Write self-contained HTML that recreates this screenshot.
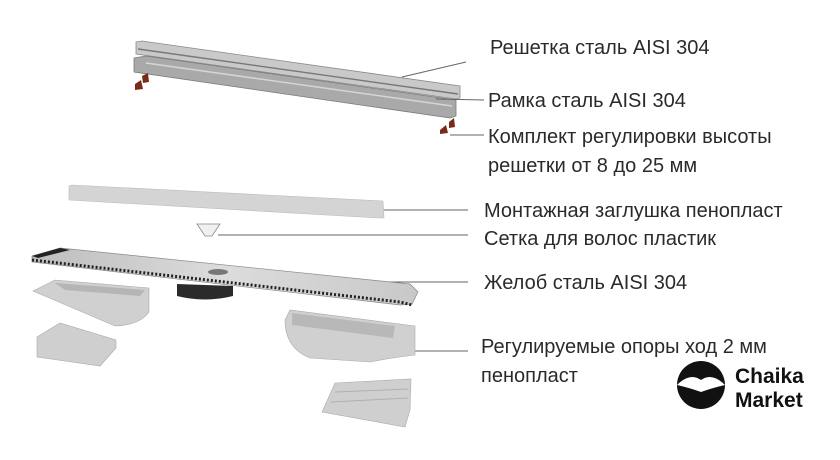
<!DOCTYPE html>
<html><head><meta charset="utf-8"><style>
html,body{margin:0;padding:0;background:#fff;}
body{width:840px;height:460px;position:relative;overflow:hidden;font-family:"Liberation Sans","DejaVu Sans",sans-serif;}
.t{position:absolute;font-size:20px;color:#2a2a2a;white-space:nowrap;line-height:22px;}
</style></head><body>
<svg width="840" height="460" style="position:absolute;left:0;top:0">
<defs>
<linearGradient id="g2" x1="0" y1="0" x2="1" y2="0"><stop offset="0" stop-color="#bdbdbd"/><stop offset="0.5" stop-color="#dcdcdc"/><stop offset="1" stop-color="#c8c8c8"/></linearGradient>
</defs>
<!-- grate -->
<polygon points="136,42 142,41 460,86 460,98 456,99 136,54" fill="#c9c9c9" stroke="#8a8a8a" stroke-width="0.8"/>
<line x1="138" y1="49" x2="458" y2="94" stroke="#777" stroke-width="1.4"/>
<!-- frame -->
<polygon points="134,58 146,56 456,100 456,116 450,118 134,72" fill="#a9a9a9" stroke="#7a7a7a" stroke-width="0.8"/>
<line x1="146" y1="63" x2="452" y2="106" stroke="#d5d5d5" stroke-width="1.5"/>
<!-- feet -->
<polygon points="135,84 141,80 143,89 135,90" fill="#7a2a1a"/>
<polygon points="142,76 148,73 149,82 143,83" fill="#7a2a1a"/>
<polygon points="440,130 446,125 448,133 440,134" fill="#7a2a1a"/>
<polygon points="449,122 454,118 455,127 449,128" fill="#7a2a1a"/>
<!-- connectors -->
<g stroke="#666" stroke-width="1" fill="none">
<line x1="402" y1="77" x2="466" y2="62"/>
<line x1="436" y1="99" x2="484" y2="100"/>
<line x1="450" y1="135" x2="484" y2="135"/>
<line x1="345" y1="210" x2="468" y2="210"/>
<line x1="218" y1="235" x2="468" y2="235"/>
<line x1="375" y1="282" x2="468" y2="282"/>
<line x1="402" y1="351" x2="468" y2="351"/>
</g>
<!-- foam plug -->
<polygon points="69,186 72,185 383,201 384,218 378,218 69,200" fill="#d4d4d4" stroke="#bbb" stroke-width="0.6"/>
<!-- hair net -->
<path d="M197,224 L220,224 L212,236 L205,236 Z" fill="#f0f0f0" stroke="#888" stroke-width="0.8"/>
<!-- channel -->
<polygon points="32,256 60,248 410,284 418,292 412,304 400,305 32,262" fill="url(#g2)" stroke="#888" stroke-width="0.7"/>
<polygon points="32,256 60,248 70,250 38,258" fill="#222"/>
<path d="M32,260 L400,302 L412,305" stroke="#222" stroke-width="3" fill="none" stroke-dasharray="2 2"/>
<ellipse cx="218" cy="272" rx="10" ry="3" fill="#777"/>
<!-- outlet -->
<path d="M177,284 L233,286 L233,296 Q205,303 177,296 Z" fill="#2b2b2b"/>
<!-- left support -->
<path d="M33,291 L55,280 L149,288 L149,312 Q140,325 115,326 Z" fill="#d0d0d0" stroke="#aaa" stroke-width="0.6"/>
<polygon points="55,283 145,290 140,296 65,290" fill="#b5b5b5"/>
<!-- left wedge -->
<polygon points="37,337 60,323 116,340 116,348 100,366 37,357" fill="#cfcfcf" stroke="#aaa" stroke-width="0.6"/>
<!-- right support -->
<path d="M285,320 L290,310 L415,326 L415,355 Q390,358 370,362 L310,358 Q285,348 285,320 Z" fill="#d0d0d0" stroke="#aaa" stroke-width="0.6"/>
<polygon points="292,313 395,326 393,338 292,325" fill="#b8b8b8"/>
<!-- right wedge -->
<polygon points="322,412 335,383 411,379 410,410 405,427" fill="#cfcfcf" stroke="#aaa" stroke-width="0.6"/>
<g stroke="#b0b0b0" stroke-width="1">
<line x1="335" y1="392" x2="408" y2="389"/><line x1="330" y1="402" x2="408" y2="398"/>
</g>
<!-- logo -->
<circle cx="701" cy="385" r="24" fill="#111"/>
<path d="M677,385 Q690,372 701,380 Q712,372 725,385 Q712,388 701,392 Q690,388 677,385 Z" fill="#fff"/>
</svg>
<div class="t" style="left:490px;top:37px">Решетка сталь AISI 304</div>
<div class="t" style="left:488px;top:90px">Рамка сталь AISI 304</div>
<div class="t" style="left:488px;top:126px">Комплект регулировки высоты</div>
<div class="t" style="left:488px;top:155px">решетки от 8 до 25 мм</div>
<div class="t" style="left:484px;top:200px">Монтажная заглушка пенопласт</div>
<div class="t" style="left:484px;top:228px">Сетка для волос пластик</div>
<div class="t" style="left:484px;top:272px">Желоб сталь AISI 304</div>
<div class="t" style="left:481px;top:336px">Регулируемые опоры ход 2 мм</div>
<div class="t" style="left:481px;top:365px">пенопласт</div>
<div class="t" style="left:735px;top:366px;font-size:21px;font-weight:bold;color:#111">Chaika</div>
<div class="t" style="left:735px;top:390px;font-size:21px;font-weight:bold;color:#111">Market</div>
</body></html>
